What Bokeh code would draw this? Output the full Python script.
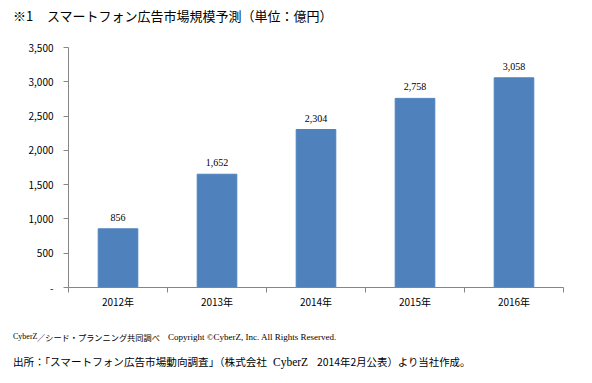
from bokeh.plotting import figure
from bokeh.models import Range1d, FixedTicker, NumeralTickFormatter, Div
from bokeh.layouts import column
from bokeh.embed import file_html
from bokeh.resources import INLINE

years = ["2012年", "2013年", "2014年", "2015年", "2016年"]
values = [856, 1652, 2304, 2758, 3058]
value_labels = ["856", "1,652", "2,304", "2,758", "3,058"]
y_ticks = [0, 500, 1000, 1500, 2000, 2500, 3000, 3500]

title_num = "※1"
title_text = "スマートフォン広告市場規模予測（単位：億円）"
note1_a = "CyberZ"
note1_b = "／シード・プランニング共同調べ"
note1_c = "Copyright ©CyberZ, Inc. All Rights Reserved."
note2_a = "出所：「スマートフォン広告市場動向調査」（株式会社"
note2_b = "CyberZ"
note2_c = "2014年2月公表）より当社作成。"

JP = "Noto Sans CJK JP"
SERIF = "Liberation Serif"
BAR = "#4F81BD"
AX = "#868686"

xc = [i + 0.5 for i in range(len(years))]

p = figure(width=576, height=282, output_backend="svg", toolbar_location=None,
           x_range=Range1d(0, len(years)), y_range=Range1d(0, 3500),
           min_border_left=68, min_border_right=13, min_border_top=17, min_border_bottom=25,
           margin=0)
p.outline_line_color = None
p.xgrid.grid_line_color = None
p.ygrid.grid_line_color = None
p.background_fill_color = "white"
p.border_fill_color = "white"

p.vbar(x=xc, top=values, width=0.4, color=BAR)
p.text(x=xc, y=values, text=value_labels, text_align="center", text_baseline="bottom",
       y_offset=-8, text_font_size="10px", text_font=JP, text_color="black")

# x axis
p.xaxis.ticker = FixedTicker(ticks=xc, minor_ticks=list(range(len(years) + 1)))
p.xaxis.major_label_overrides = {c: y for c, y in zip(xc, years)}
p.xaxis.major_tick_in = 0
p.xaxis.major_tick_out = 0
p.xaxis.minor_tick_in = 0
p.xaxis.minor_tick_out = 5
p.xaxis.minor_tick_line_color = AX
p.xaxis.axis_line_color = AX
p.xaxis.major_label_standoff = 1
p.xaxis.major_label_text_font_size = "10px"
p.xaxis.major_label_text_font = JP
p.xaxis.major_label_text_color = "black"

# y axis
p.yaxis.ticker = FixedTicker(ticks=y_ticks, minor_ticks=[])
p.yaxis.formatter = NumeralTickFormatter(format="0,0")
p.yaxis.major_label_overrides = {0: "-"}
p.yaxis.major_tick_in = 0
p.yaxis.major_tick_out = 5
p.yaxis.major_tick_line_color = AX
p.yaxis.axis_line_color = AX
p.yaxis.minor_tick_line_color = None
p.yaxis.major_label_standoff = 10
p.yaxis.major_label_text_font_size = "10px"
p.yaxis.major_label_text_font = JP
p.yaxis.major_label_text_color = "black"


def piece(txt, left, top, font, size, lh):
    return (f"<div style=\"position:absolute;left:{left}px;top:{top}px;white-space:nowrap;"
            f"color:black;font-family:'{font}';font-size:{size}px;line-height:{lh}px\">{txt}</div>")


title_div = Div(width=576, height=30, margin=0, text=(
    piece(title_num, 13, 7, JP, 13, 18) + piece(title_text, 47, 7, JP, 13, 18)))

notes_div = Div(width=576, height=60, margin=0, text=(
    piece(note1_a, 13, 19, SERIF, 8, 12)
    + piece(note1_b, 37, 19, JP, 8.2, 12)
    + piece(note1_c, 168, 19, SERIF, 9, 12)
    + piece(note2_a, 13, 41, JP, 10.6, 18)
    + piece(note2_b, 273, 41, SERIF, 11.5, 18)
    + piece(note2_c, 317, 41, JP, 10.4, 18)))

layout = column(title_div, p, notes_div, spacing=0)

open("out.html", "w").write(file_html(layout, INLINE))
